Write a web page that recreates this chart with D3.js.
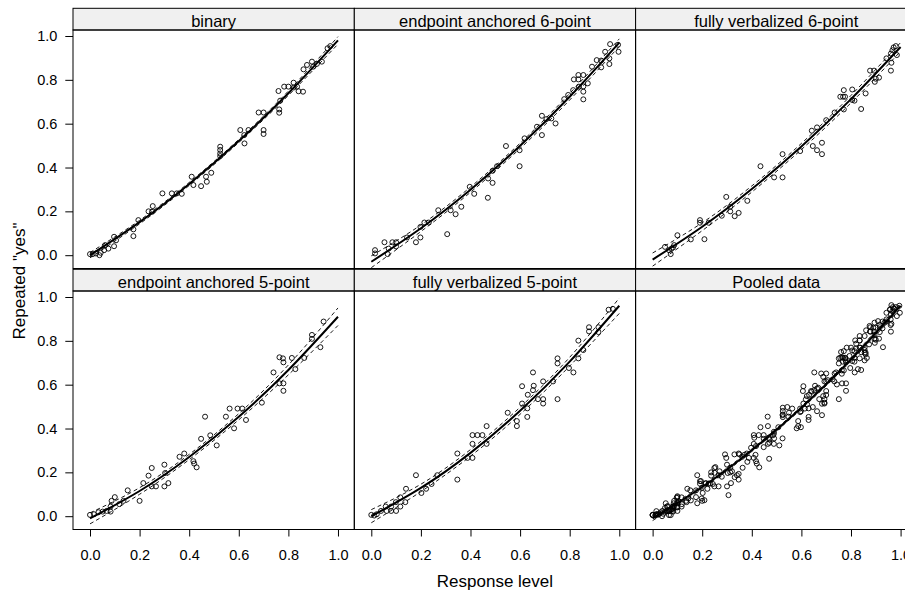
<!DOCTYPE html>
<html>
<head>
<meta charset="utf-8">
<script src="https://cdn.jsdelivr.net/npm/d3@7"></script>
<style>
  html, body { margin: 0; padding: 0; background: #fff; }
  svg { display: block; font-family: "Liberation Sans", Arial, Helvetica, sans-serif; }
</style>
</head>
<body>
<svg id="chart" width="905" height="594"></svg>
<script>
// Panel titles in layout order (row by row)
const panelTitles = [
  "binary", "endpoint anchored 6-point", "fully verbalized 6-point",
  "endpoint anchored 5-point", "fully verbalized 5-point", "Pooled data"
];

// Observed points [response level, repeated "yes"] for each scale format
const binaryPts = [
  [0.0,0.005],[0.011,0.005],[0.024,0.008],[0.038,0.0],[0.043,0.011],[0.057,0.023],[0.061,0.046],
  [0.074,0.03],[0.097,0.041],[0.097,0.084],[0.105,0.068],[0.175,0.087],[0.175,0.118],[0.195,0.16],
  [0.236,0.2],[0.253,0.224],[0.25,0.198],[0.292,0.282],[0.33,0.282],[0.35,0.282],[0.37,0.28],
  [0.41,0.358],[0.417,0.32],[0.448,0.315],[0.471,0.335],[0.468,0.358],[0.489,0.376],[0.525,0.495],
  [0.525,0.48],[0.525,0.464],[0.525,0.452],[0.606,0.571],[0.623,0.51],[0.639,0.571],[0.622,0.548],
  [0.68,0.651],[0.7,0.651],[0.7,0.571],[0.7,0.553],[0.763,0.665],[0.763,0.65],[0.767,0.705],
  [0.76,0.749],[0.783,0.769],[0.8,0.769],[0.821,0.787],[0.821,0.765],[0.835,0.769],[0.859,0.746],
  [0.841,0.748],[0.861,0.848],[0.875,0.868],[0.895,0.883],[0.9,0.86],[0.935,0.883],[0.915,0.873],
  [0.958,0.944],[0.969,0.954]
];
const endpoint6Pts = [
  [0.015,0.023],[0.015,0.008],[0.053,0.059],[0.066,0.005],[0.07,0.03],[0.085,0.059],[0.1,0.059],
  [0.1,0.04],[0.144,0.081],[0.18,0.059],[0.198,0.081],[0.198,0.129],[0.214,0.149],[0.232,0.149],
  [0.27,0.205],[0.306,0.096],[0.32,0.205],[0.34,0.187],[0.363,0.221],[0.397,0.312],[0.415,0.28],
  [0.47,0.262],[0.471,0.35],[0.489,0.33],[0.489,0.385],[0.507,0.406],[0.543,0.498],[0.598,0.406],
  [0.598,0.479],[0.618,0.533],[0.668,0.586],[0.688,0.636],[0.688,0.548],[0.706,0.621],[0.726,0.624],
  [0.743,0.601],[0.778,0.712],[0.794,0.731],[0.814,0.753],[0.817,0.802],[0.835,0.822],[0.835,0.802],
  [0.855,0.822],[0.855,0.746],[0.855,0.711],[0.837,0.769],[0.873,0.784],[0.855,0.77],[0.89,0.86],
  [0.909,0.89],[0.927,0.857],[0.927,0.888],[0.943,0.928],[0.96,0.898],[0.96,0.872],[0.963,0.963],
  [0.997,0.928],[0.995,0.96]
];
const verbal6Pts = [
  [0.05,0.038],[0.066,0.023],[0.073,0.005],[0.082,0.035],[0.087,0.046],[0.076,0.03],[0.1,0.091],
  [0.154,0.072],[0.191,0.16],[0.191,0.148],[0.209,0.073],[0.226,0.148],[0.279,0.18],[0.297,0.266],
  [0.313,0.221],[0.313,0.2],[0.331,0.178],[0.347,0.193],[0.382,0.248],[0.435,0.406],[0.49,0.355],
  [0.524,0.461],[0.524,0.355],[0.595,0.475],[0.642,0.568],[0.663,0.583],[0.646,0.498],[0.663,0.479],
  [0.683,0.513],[0.683,0.461],[0.7,0.616],[0.734,0.651],[0.771,0.665],[0.768,0.723],[0.757,0.723],
  [0.771,0.753],[0.776,0.723],[0.805,0.756],[0.814,0.705],[0.805,0.708],[0.841,0.667],[0.859,0.738],
  [0.877,0.842],[0.893,0.842],[0.896,0.791],[0.913,0.81],[0.9,0.805],[0.943,0.898],[0.961,0.842],
  [0.963,0.878],[0.961,0.92],[0.972,0.948],[0.985,0.913],[0.981,0.954],[0.967,0.935]
];
const endpoint5Pts = [
  [0.0,0.006],[0.016,0.009],[0.034,0.018],[0.051,0.021],[0.067,0.024],[0.083,0.021],[0.083,0.044],
  [0.087,0.07],[0.1,0.087],[0.118,0.055],[0.135,0.07],[0.152,0.118],[0.2,0.07],[0.215,0.151],
  [0.236,0.185],[0.249,0.22],[0.249,0.136],[0.266,0.136],[0.3,0.136],[0.3,0.235],[0.303,0.197],
  [0.316,0.151],[0.361,0.271],[0.38,0.286],[0.417,0.251],[0.43,0.223],[0.42,0.24],[0.448,0.353],
  [0.464,0.454],[0.485,0.369],[0.511,0.323],[0.548,0.454],[0.563,0.491],[0.581,0.401],[0.595,0.491],
  [0.614,0.491],[0.629,0.439],[0.693,0.518],[0.74,0.656],[0.764,0.606],[0.764,0.725],[0.778,0.72],
  [0.78,0.702],[0.78,0.572],[0.78,0.606],[0.814,0.722],[0.828,0.671],[0.864,0.722],[0.895,0.827],
  [0.895,0.809],[0.929,0.771],[0.942,0.888]
];
const verbal5Pts = [
  [0.0,0.006],[0.012,0.003],[0.022,0.009],[0.039,0.024],[0.058,0.044],[0.062,0.024],[0.08,0.024],
  [0.08,0.044],[0.099,0.064],[0.1,0.024],[0.117,0.086],[0.117,0.044],[0.137,0.064],[0.14,0.125],
  [0.18,0.187],[0.202,0.106],[0.221,0.125],[0.243,0.147],[0.266,0.187],[0.347,0.167],[0.347,0.286],
  [0.388,0.266],[0.408,0.266],[0.408,0.33],[0.408,0.37],[0.428,0.37],[0.448,0.37],[0.465,0.411],
  [0.465,0.33],[0.55,0.472],[0.587,0.434],[0.587,0.411],[0.608,0.593],[0.608,0.514],[0.629,0.453],
  [0.629,0.492],[0.631,0.554],[0.652,0.656],[0.652,0.575],[0.655,0.595],[0.672,0.534],[0.693,0.615],
  [0.693,0.534],[0.693,0.514],[0.751,0.534],[0.733,0.615],[0.751,0.697],[0.751,0.72],[0.797,0.676],
  [0.815,0.656],[0.835,0.72],[0.835,0.801],[0.855,0.758],[0.878,0.862],[0.878,0.843],[0.916,0.862],
  [0.916,0.84],[0.957,0.942],[0.974,0.946]
];
// The pooled panel shows every observation from the five formats
const pooledPts = [].concat(binaryPts, endpoint6Pts, verbal6Pts, endpoint5Pts, verbal5Pts);

// Fitted curve and its confidence band, evaluated at these response levels
const fitX = [0, 0.2, 0.4, 0.6, 0.8, 1.0];
const fitMid = [
  [0.000, 0.151, 0.325, 0.521, 0.739, 0.980],
  [-0.030, 0.123, 0.299, 0.499, 0.723, 0.970],
  [-0.020, 0.130, 0.302, 0.496, 0.712, 0.950],
  [-0.010, 0.115, 0.270, 0.454, 0.667, 0.910],
  [0.000, 0.129, 0.289, 0.481, 0.705, 0.960],
  [-0.010, 0.133, 0.301, 0.495, 0.715, 0.960]
];
const fitLow = [
  [-0.012, 0.143, 0.318, 0.514, 0.729, 0.963],
  [-0.057, 0.108, 0.287, 0.487, 0.708, 0.953],
  [-0.050, 0.112, 0.288, 0.482, 0.695, 0.930],
  [-0.035, 0.100, 0.258, 0.440, 0.645, 0.870],
  [-0.030, 0.112, 0.274, 0.465, 0.685, 0.925],
  [-0.020, 0.126, 0.295, 0.489, 0.707, 0.948]
];
const fitHigh = [
  [0.012, 0.159, 0.332, 0.528, 0.749, 0.997],
  [-0.003, 0.138, 0.311, 0.511, 0.738, 0.987],
  [0.010, 0.148, 0.316, 0.510, 0.729, 0.970],
  [0.015, 0.130, 0.282, 0.468, 0.690, 0.950],
  [0.030, 0.146, 0.304, 0.497, 0.725, 0.995],
  [0.000, 0.140, 0.307, 0.501, 0.723, 0.972]
];
const panelPoints = [binaryPts, endpoint6Pts, verbal6Pts, endpoint5Pts, verbal5Pts, pooledPts];

const tickValues = [0, 0.2, 0.4, 0.6, 0.8, 1.0];
const xTitle = "Response level";
const yTitle = "Repeated \"yes\"";

// ---- layout ----
const svg = d3.select("#chart");
const nCols = 3;
const left0 = 73, panelW = 281.3;
const rowTop = [8.3, 269.3];
const stripH = 21.7, plotH = 238.5;

const x = d3.scaleLinear().domain([-0.0686, 1.0658]).range([0, panelW]);
const y = d3.scaleLinear().domain([-0.0607, 1.0274]).range([plotH, 0]);
const fmt = d3.format(".1f");

svg.append("defs").append("clipPath").attr("id", "plotClip")
  .append("rect").attr("x", 0).attr("y", 0).attr("width", panelW).attr("height", plotH);

const line = d3.line().x(d => x(d[0])).y(d => y(d[1])).curve(d3.curveNatural);

function styleAxis(a) {
  a.select(".domain").remove();
  a.attr("font-size", "14.5px").attr("font-family", null);
  a.selectAll("text").attr("fill", "#000");
  a.selectAll("line").attr("stroke", "#000");
}

panelTitles.forEach((title, i) => {
  const col = i % nCols, row = Math.floor(i / nCols);
  const px = left0 + col * panelW;
  const top = rowTop[row];
  const g = svg.append("g").attr("transform", `translate(${px},${top})`);

  // strip
  g.append("rect").attr("x", 0).attr("y", 0).attr("width", panelW).attr("height", stripH)
    .attr("fill", "#f0f0f0").attr("stroke", "#000").attr("stroke-width", 1);
  g.append("text").attr("x", panelW / 2).attr("y", 18.3).attr("text-anchor", "middle")
    .attr("font-size", "16.5px").attr("fill", "#000").text(title);

  const p = g.append("g").attr("transform", `translate(0,${stripH})`);
  const inner = p.append("g").attr("clip-path", "url(#plotClip)");

  inner.selectAll("circle").data(panelPoints[i]).join("circle")
    .attr("cx", d => x(d[0])).attr("cy", d => y(d[1])).attr("r", 2.5)
    .attr("fill", "none").attr("stroke", "#000").attr("stroke-width", 0.9);

  const band = (arr) => fitX.map((v, k) => [v, arr[k]]);
  [fitLow[i], fitHigh[i]].forEach(arr => {
    inner.append("path").attr("d", line(band(arr)))
      .attr("fill", "none").attr("stroke", "#000").attr("stroke-width", 0.9)
      .attr("stroke-dasharray", "4,3");
  });
  inner.append("path").attr("d", line(band(fitMid[i])))
    .attr("fill", "none").attr("stroke", "#000").attr("stroke-width", 2);

  p.append("rect").attr("x", 0).attr("y", 0).attr("width", panelW).attr("height", plotH)
    .attr("fill", "none").attr("stroke", "#000").attr("stroke-width", 1);

  // y axis on the left column
  if (col === 0) {
    const ay = p.append("g")
      .call(d3.axisLeft(y).tickValues(tickValues).tickFormat(fmt).tickSize(7.7).tickPadding(8));
    styleAxis(ay);
  }
  // x axis on the bottom row
  if (row === 1) {
    const ax = p.append("g").attr("transform", `translate(0,${plotH})`)
      .call(d3.axisBottom(x).tickValues(tickValues).tickFormat(fmt).tickSize(7).tickPadding(13.3));
    styleAxis(ax);
  }
});

// axis titles
svg.append("text").attr("x", left0 + 1.5 * panelW).attr("y", 586.5)
  .attr("text-anchor", "middle").attr("font-size", "17px").attr("fill", "#000").text(xTitle);
svg.append("text").attr("transform", "translate(24.5,281) rotate(-90)")
  .attr("text-anchor", "middle").attr("font-size", "17px").attr("fill", "#000").text(yTitle);
</script>
</body>
</html>
